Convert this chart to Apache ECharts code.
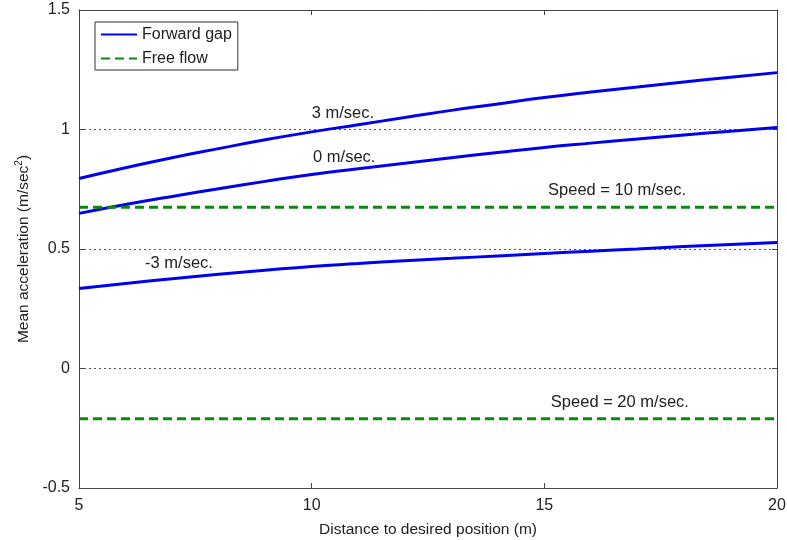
<!DOCTYPE html>
<html>
<head>
<meta charset="utf-8">
<script src="https://cdn.jsdelivr.net/npm/echarts@6/dist/echarts.min.js"></script>
<style>
  html, body { margin: 0; padding: 0; background: #fff; }
  #chart { width: 787px; height: 540px; }
</style>
</head>
<body>
<div id="chart"></div>
<script>
// distance to desired position (m)
const distance = [5, 6, 7, 8, 9, 10, 11, 12, 13, 14, 15, 16, 17, 18, 19, 20]
// forward gap curves, one per relative speed
const gapPlus3 = [0.795, 0.84, 0.882, 0.92, 0.957, 0.99, 1.02, 1.05, 1.08, 1.107, 1.134, 1.157, 1.178, 1.199, 1.219, 1.238]
const gapZero = [0.649, 0.686, 0.72, 0.752, 0.783, 0.812, 0.836, 0.859, 0.882, 0.904, 0.925, 0.943, 0.96, 0.977, 0.993, 1.008]
const gapMinus3 = [0.335, 0.356, 0.376, 0.394, 0.411, 0.427, 0.439, 0.451, 0.461, 0.471, 0.481, 0.491, 0.5, 0.51, 0.519, 0.527]
// free flow levels
const freeFlow10 = 0.675
const freeFlow20 = -0.21

const font = 'Liberation Sans, Arial, sans-serif'
const blue = '#0000f0'
const green = '#0a8a0a'

function pairs(ys) {
  return distance.map((x, i) => [x, ys[i]])
}

// text labels placed in data coords
function note(text, x, y) {
  return {
    coord: [x, y],
    symbolSize: 0,
    label: {
      show: true, formatter: text, position: 'right', distance: 0,
      color: '#222', fontFamily: font, fontSize: 16.5
    }
  }
}

const chart = echarts.init(document.getElementById('chart'))

const tickCommon = { show: true, inside: true, length: 5, lineStyle: { color: '#444' } }
const lineCommon = { show: true, onZero: false, lineStyle: { color: '#444' } }

chart.setOption({
  animation: false,
  grid: { left: 79, right: 10, top: 10, bottom: 52, outerBoundsMode: 'none' },
  legend: {
    left: 95, top: 22,
    orient: 'vertical',
    backgroundColor: '#fff',
    borderColor: '#333', borderWidth: 1,
    padding: [3, 6, 2, 5],
    itemWidth: 36, itemHeight: 14, itemGap: 5,
    itemStyle: { opacity: 0 },
    textStyle: { fontFamily: font, fontSize: 16, lineHeight: 19, color: '#222' },
    data: ['Forward gap', 'Free flow']
  },
  xAxis: [{
    type: 'value', min: 5, max: 20, interval: 5,
    name: 'Distance to desired position (m)',
    nameLocation: 'middle', nameGap: 34,
    nameTextStyle: { fontFamily: font, fontSize: 15.5, color: '#222' },
    axisLine: lineCommon,
    axisTick: tickCommon,
    axisLabel: { fontFamily: font, fontSize: 16, color: '#222', margin: 10 },
    splitLine: { show: false }
  }, {
    type: 'value', min: 5, max: 20, interval: 5, position: 'top',
    axisLine: lineCommon,
    axisTick: tickCommon,
    axisLabel: { show: false },
    splitLine: { show: false }
  }],
  yAxis: [{
    type: 'value', min: -0.5, max: 1.5, interval: 0.5,
    name: '{t|Mean acceleration (m/sec}{s|2}{t|)}',
    nameLocation: 'middle', nameGap: 44, nameRotate: 90,
    nameTextStyle: {
      rich: {
        t: { fontFamily: font, fontSize: 15.5, color: '#222' },
        s: { fontFamily: font, fontSize: 10, color: '#222', verticalAlign: 'top', padding: [0, 0, 8, 0] }
      }
    },
    axisLine: lineCommon,
    axisTick: tickCommon,
    axisLabel: { fontFamily: font, fontSize: 16, color: '#222', margin: 9 },
    splitLine: { show: true, lineStyle: { color: '#555', type: [2, 3], width: 1 } }
  }, {
    type: 'value', min: -0.5, max: 1.5, interval: 0.5, position: 'right',
    axisLine: lineCommon,
    axisTick: tickCommon,
    axisLabel: { show: false },
    splitLine: { show: false }
  }],
  series: [
    {
      name: 'Forward gap', type: 'line', data: pairs(gapPlus3), symbol: 'none', smooth: true,
      lineStyle: { color: blue, width: 3 }, itemStyle: { color: blue },
      markPoint: { silent: true, data: [note('3 m/sec.', 10.0, 1.067)] }
    },
    {
      name: 'Forward gap', type: 'line', data: pairs(gapZero), symbol: 'none', smooth: true,
      lineStyle: { color: blue, width: 3 }, itemStyle: { color: blue },
      markPoint: { silent: true, data: [note('0 m/sec.', 10.03, 0.883)] }
    },
    {
      name: 'Forward gap', type: 'line', data: pairs(gapMinus3), symbol: 'none', smooth: true,
      lineStyle: { color: blue, width: 3 }, itemStyle: { color: blue },
      markPoint: { silent: true, data: [note('-3 m/sec.', 6.42, 0.44)] }
    },
    {
      name: 'Free flow', type: 'line', data: pairs(distance.map(() => freeFlow10)), symbol: 'none',
      lineStyle: { color: green, width: 3, type: [9, 5] }, itemStyle: { color: green },
      markPoint: { silent: true, data: [note('Speed = 10 m/sec.', 15.08, 0.745)] }
    },
    {
      name: 'Free flow', type: 'line', data: pairs(distance.map(() => freeFlow20)), symbol: 'none',
      lineStyle: { color: green, width: 3, type: [9, 5] }, itemStyle: { color: green },
      markPoint: { silent: true, data: [note('Speed = 20 m/sec.', 15.14, -0.142)] }
    }
  ]
})
</script>
</body>
</html>
